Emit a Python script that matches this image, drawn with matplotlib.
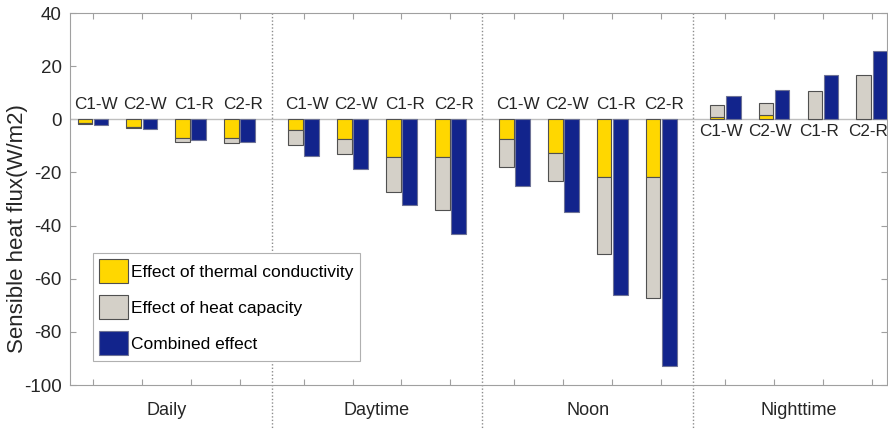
import numpy as np
import matplotlib
matplotlib.use("Agg")
import matplotlib.pyplot as plt

plt.rcParams['font.family'] = ['Liberation Sans', 'DejaVu Sans']
plt.rcParams['axes.unicode_minus'] = False

# period groups and case names
periods = ["Daily", "Daytime", "Noon", "Nighttime"]
cases = ["C1-W", "C2-W", "C1-R", "C2-R"]

# effect of thermal conductivity (W/m2), one row per period
cond = np.array([
    [-1.3, -2.8, -6.9, -7.0],
    [-4.0, -7.5, -14.2, -14.2],
    [-7.3, -12.6, -21.8, -21.8],
    [0.8, 1.7, 0.2, 0.2],
])
# effect of heat capacity (stacked on top of conductivity)
cap = np.array([
    [-0.5, -0.6, -1.5, -1.8],
    [-5.7, -5.4, -13.2, -20.1],
    [-10.5, -10.5, -28.8, -45.4],
    [4.4, 4.4, 10.3, 16.3],
])
# combined effect
comb = np.array([
    [-2.3, -3.8, -7.9, -8.6],
    [-13.7, -18.8, -32.4, -43.3],
    [-25.1, -34.8, -66.3, -92.7],
    [8.6, 11.1, 16.6, 25.7],
])

c_yellow = '#FFD700'
c_gray = '#D4D0C8'
c_blue = '#12248C'
axis_col = '#A0A0A0'
txt_col = '#262626'

group_step = 4.31
bw = 0.3
off = 0.165

fig = plt.figure(figsize=(8.88, 4.30), dpi=100)
ax = fig.add_axes([70/888, 45/430, 817/888, 372/430])

xs = np.array([g * group_step + np.arange(len(cases)) for g in range(len(periods))])

for g in range(len(periods)):
    x = xs[g]
    ax.bar(x - off, cond[g], bw, color=c_yellow, edgecolor='#505050', linewidth=0.8,
           label="Effect of thermal conductivity" if g == 0 else None, zorder=3)
    ax.bar(x - off, cap[g], bw, bottom=cond[g], color=c_gray, edgecolor='#505050', linewidth=0.8,
           label="Effect of heat capacity" if g == 0 else None, zorder=3)
    ax.bar(x + off, comb[g], bw, color=c_blue, edgecolor='#6E7396', linewidth=0.8,
           label="Combined effect" if g == 0 else None, zorder=3)
    # case names above zero for cooling periods, below for nighttime
    if comb[g].mean() < 0:
        ty, dx = 5.6, 0.07
    else:
        ty, dx = -4.6, -0.08
    for xi, name in zip(x, cases):
        ax.text(xi + dx, ty, name, ha='center', va='center', fontsize=12.3, color=txt_col, zorder=4)
    ax.text(x.mean(), -0.068, periods[g], transform=ax.get_xaxis_transform(),
            ha='center', va='center', fontsize=13, color=txt_col)

# zero line
ax.axhline(0, color='#BEBEBE', linewidth=1.0, zorder=2)

# dotted separators between periods
for g in range(1, len(periods)):
    sx = (xs[g - 1][-1] + xs[g][0]) / 2
    ax.plot([sx, sx], [-0.125, 1.0], transform=ax.get_xaxis_transform(), color='#8C8C8C',
            linestyle=(0, (1, 1.5)), linewidth=1.0, clip_on=False, zorder=1)

ax.set_xlim(-0.47, xs[-1][-1] + 0.31)
ax.set_ylim(-100, 40)
ax.set_yticks(np.arange(-100, 41, 20))
ax.set_xticks(xs.ravel())
ax.set_xticklabels([])
ax.tick_params(axis='both', direction='in', length=4, color=axis_col, width=0.8,
               top=True, right=True, labelsize=13.5, labelcolor=txt_col, pad=6)
for sp in ax.spines.values():
    sp.set_color(axis_col)
    sp.set_linewidth(0.8)

fig.text(18/888, 1 - 229/430, "Sensible heat flux(W/m2)", rotation=90,
         ha='center', va='center', fontsize=16, color=txt_col)

leg = ax.legend(loc='upper left', bbox_to_anchor=(93/888, 1 - 253/430), bbox_transform=fig.transFigure,
                fontsize=12.5, frameon=True, fancybox=False, framealpha=1, edgecolor='#B0B0B0',
                handlelength=1.65, handleheight=1.75, handletextpad=0.2, labelspacing=0.7,
                borderpad=0.35, borderaxespad=0)
leg.get_frame().set_linewidth(0.8)

fig.savefig("out.png", dpi=100)
